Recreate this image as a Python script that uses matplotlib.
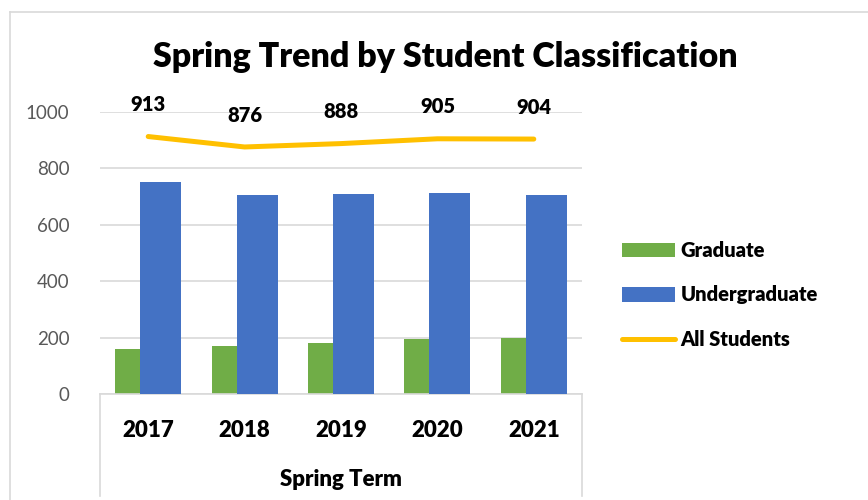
import matplotlib
matplotlib.use("Agg")
import matplotlib.pyplot as plt
import numpy as np
from matplotlib.lines import Line2D
from matplotlib.patches import Patch

years = ["2017", "2018", "2019", "2020", "2021"]
graduate = [160, 170, 180, 194, 200]
undergraduate = [753, 706, 708, 711, 704]
all_students = [913, 876, 888, 905, 904]

GREEN = "#70AD47"
BLUE = "#4472C4"
YELLOW = "#FFC000"
GRID = "#D9D9D9"
FONT = "Lato"
BOLD = "heavy"

plt.rcParams["font.family"] = [FONT, "DejaVu Sans"]

W, H = 868, 500
fig = plt.figure(figsize=(W / 100, H / 100), dpi=100)

def fx(px):
    return px / W

def fy(py):
    return 1 - py / H

ax = fig.add_axes([fx(100), fy(394), fx(582) - fx(100), fy(112) - fy(394)])

x = np.arange(len(years))
bw = 0.425
off = 0.13
ax.bar(x - off, graduate, width=bw, color=GREEN, zorder=2, label="Graduate")
ax.bar(x + off, undergraduate, width=bw, color=BLUE, zorder=3, label="Undergraduate")
ax.plot(x, all_students, color=YELLOW, lw=3.6, zorder=4, solid_capstyle="round",
        label="All Students")
for xi, v in zip(x, all_students):
    ax.annotate(str(v), (xi, v), xytext=(0, 23), textcoords="offset points",
                ha="center", va="center", fontsize=14.5, fontweight=BOLD,
                color="black", annotation_clip=False, zorder=5)

ax.set_xlim(-0.5, len(years) - 0.5)
ax.set_ylim(0, 1000)
ax.set_yticks([0, 200, 400, 600, 800, 1000])
ax.yaxis.grid(True, color=GRID, lw=1.2, zorder=0)
ax.set_axisbelow(True)
for s in ["top", "right", "left"]:
    ax.spines[s].set_visible(False)
ax.spines["bottom"].set_color(GRID)
ax.spines["bottom"].set_linewidth(1.2)
ax.tick_params(axis="y", length=0, pad=22, labelsize=13.5, labelcolor="#595959")
ax.tick_params(axis="x", length=0, pad=19, labelsize=16)
ax.set_xticks(x)
ax.set_xticklabels(years, fontweight=BOLD)
ax.set_xlabel("Spring Term", fontsize=16, fontweight=BOLD, labelpad=20)

# category box lines below axis
for px in (100, 582):
    fig.add_artist(Line2D([fx(px), fx(px)], [fy(394), fy(496)], color=GRID, lw=1.2))

# chart area border (top & left)
fig.add_artist(Line2D([fx(10), 1], [fy(12), fy(12)], color=GRID, lw=1.2))
fig.add_artist(Line2D([fx(10), fx(10)], [fy(12), 0], color=GRID, lw=1.2))

fig.text(fx(445), fy(57), "Spring Trend by Student Classification", ha="center",
         va="center", fontsize=24.5, fontweight=BOLD, color="black")

handles = [Patch(facecolor=GREEN), Patch(facecolor=BLUE),
           Line2D([0], [0], color=YELLOW, lw=3.6, solid_capstyle="round")]
labels = ["Graduate", "Undergraduate", "All Students"]
fig.legend(handles, labels, loc="center left", bbox_to_anchor=(fx(604), fy(295)),
           frameon=False, prop={"family": FONT, "weight": BOLD, "size": 14.5},
           handlelength=2.65, handleheight=0.7, handletextpad=0.25, labelspacing=1.25)

fig.savefig("out.png", dpi=100, facecolor="white")
